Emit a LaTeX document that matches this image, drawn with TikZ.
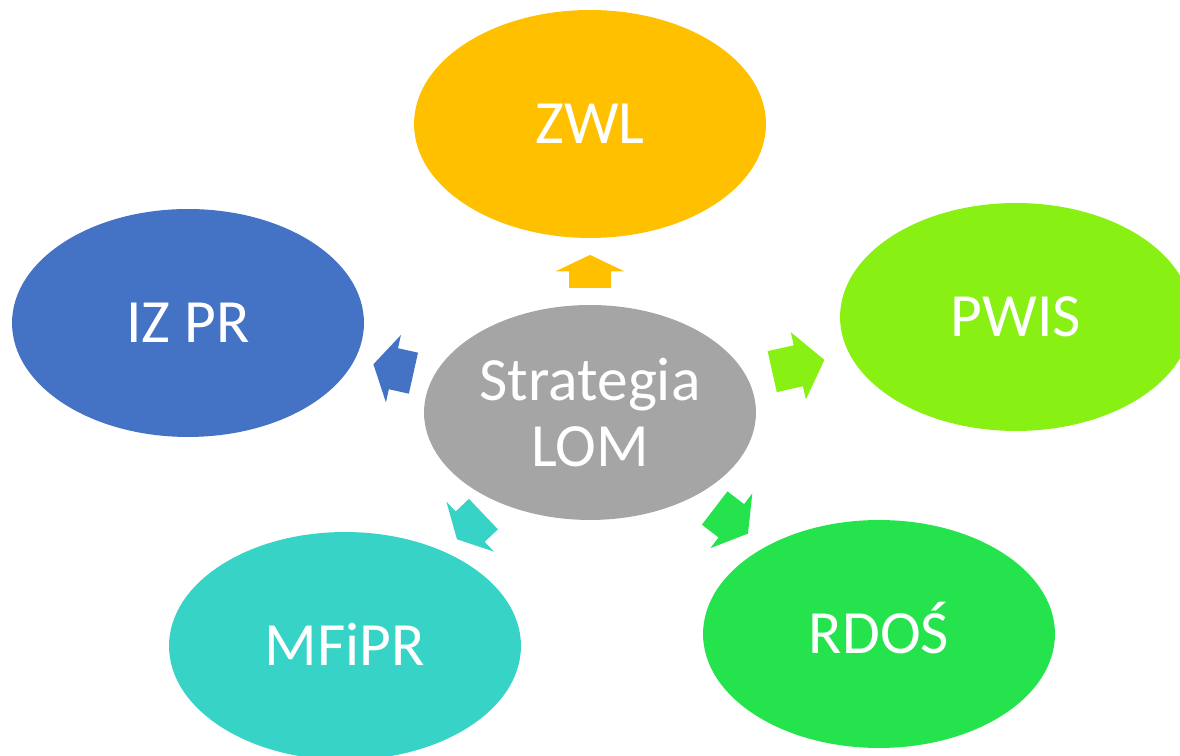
\documentclass[tikz,border=0pt]{standalone}
\usepackage{fontspec}
\setmainfont{Carlito}
\usetikzlibrary{shapes.geometric,calc}

\definecolor{hubgray}{HTML}{A5A5A5}
\definecolor{zwlgold}{HTML}{FFC000}
\definecolor{pwislime}{HTML}{88F012}
\definecolor{izprblue}{HTML}{4472C4}
\definecolor{mfiprteal}{HTML}{36D3C6}
\definecolor{rdosgreen}{HTML}{24E34C}

\tikzset{
  bubble/.style={ellipse, fill=#1, minimum width=7.04cm, minimum height=4.56cm,
    inner sep=0pt, text=white, font=\fontsize{35}{37.8}\selectfont,
    text height=22pt, text depth=0pt},
  hub/.style={ellipse, fill=hubgray, minimum width=6.64cm, minimum height=4.3cm,
    inner sep=0pt, text=white, font=\fontsize{35}{37.8}\selectfont, align=center}
}

\begin{document}
\begin{tikzpicture}[x=0.02cm, y=0.02cm]
  \useasboundingbox (0,0) rectangle (1180,756);

  \node[hub] (lom) at (590,343.5) {Strategia\\LOM};
  \node[bubble=zwlgold]   (zwl)   at (590,632)  {ZWL};
  \node[bubble=pwislime]  (pwis)  at (1016,439) {PWIS};
  \node[bubble=izprblue]  (izpr)  at (188,433)  {IZ PR};
  \node[bubble=mfiprteal] (mfipr) at (345,110)  {MFiPR};
  \node[bubble=rdosgreen] (rdos)  at (879,122)  {RDOŚ};

  % block arrows, half way across each gap
  \foreach \dest/\ang/\len/\col in {zwl/90/33/zwlgold, pwis/12.64/53.5/pwislime,
      izpr/167.45/41/izprblue, mfipr/223.6/36.5/mfiprteal, rdos/-37.46/42/rdosgreen}
  {
    \begin{scope}[shift={($(lom)!0.489!(\dest)$)}, rotate=\ang]
      \fill[\col] ({-\len/2},-21) -- (0,-21) -- (0,-34.5) -- ({\len/2},0)
            -- (0,34.5) -- (0,21) -- ({-\len/2},21) -- cycle;
    \end{scope}
  }
\end{tikzpicture}
\end{document}
